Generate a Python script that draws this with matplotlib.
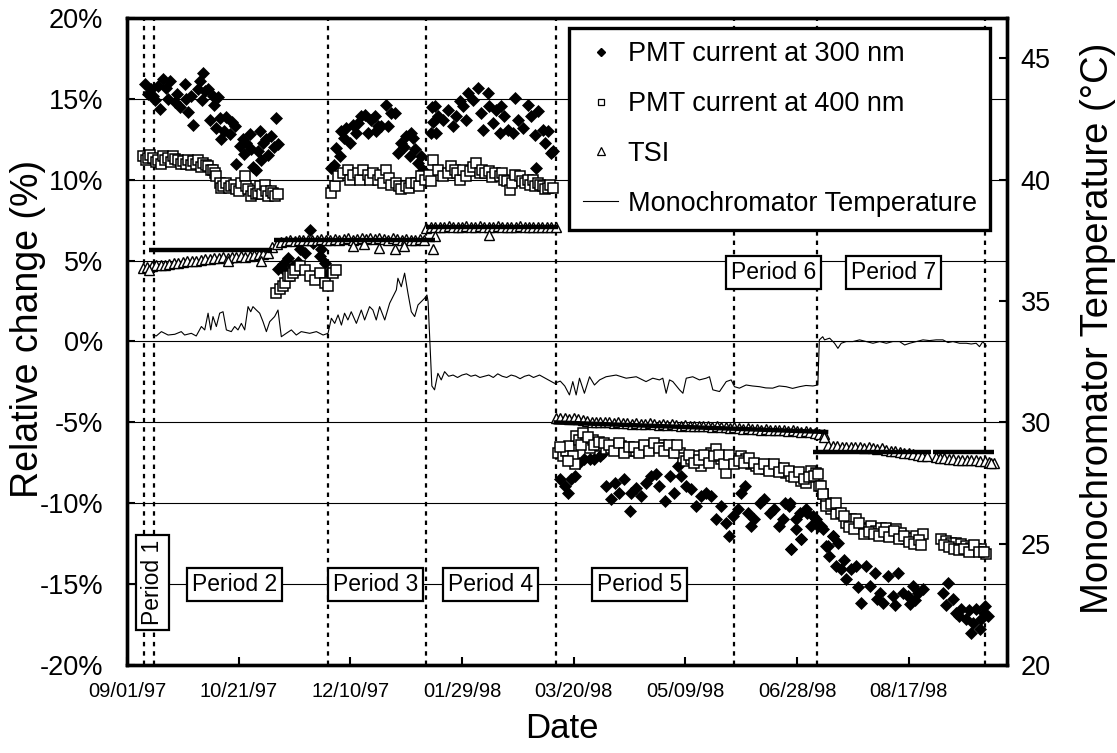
import datetime as dt
import numpy as np
import matplotlib
matplotlib.use("Agg")
import matplotlib.pyplot as plt
from matplotlib.lines import Line2D

plt.rcParams['font.family'] = ['Liberation Sans', 'DejaVu Sans']

# x values are days since 09/01/97
START = dt.date(1997, 9, 1)

# PMT current at 300 nm (% change)
pmt300_days = [
    # periods 1-2
    7.9, 9.5, 10.9, 11.7, 12.5, 13.9, 14.6, 16.1, 17.6, 18.5, 19.1, 21.3, 22.5, 23.6, 25.8,
    26.6, 27.5, 28.8, 29.6, 31.8, 32.5, 33.5, 34.0, 34.8, 36.3, 37.0, 38.5, 39.0, 40.0, 40.7,
    41.5, 42.2, 43.5, 44.5, 46.0, 47.0, 48.2, 49.0, 50.4, 51.9, 52.5, 53.4, 54.9, 55.5, 56.4,
    57.9, 58.5, 59.4, 60.2, 61.0, 62.4, 63.1, 64.6, 65.8, 66.9, 67.6,
    # low group
    67.5, 69.8, 71.0, 72.1, 74.3, 76.5, 77.3, 79.5, 81.8, 83.3, 86.3, 87.0, 88.5, 90.0,
    # period 3
    91.5, 92.5, 93.7, 95.2, 96.0, 97.0, 98.2, 99.7, 101.2, 102.5, 103.4, 104.9, 106.4, 107.9,
    109.4, 110.9, 111.5, 112.4, 113.9, 116.1, 116.8, 118.0, 119.8, 121.3, 122.8, 124.0, 125.1,
    126.5, 127.2, 128.0, 128.8, 130.3, 131.8, 132.5,
    # period 4
    136.0, 136.5, 137.0, 137.7, 138.5, 139.2, 141.4, 143.7, 145.9, 147.4, 148.9, 150.4, 151.9,
    152.6, 154.9, 157.1, 158.6, 159.3, 161.6, 162.3, 163.8, 165.3, 166.8, 167.6, 169.0, 170.5,
    172.8, 173.5, 175.0, 177.3, 179.5, 181.0, 182.5, 183.2, 184.0, 186.2, 187.0, 188.4, 189.9,
    190.7,
    # periods 5-6
    193.7, 195.9, 197.4, 198.9, 200.4, 202.6, 204.8, 207.1, 209.3, 211.6, 213.0, 214.5, 216.8,
    218.3, 220.5, 222.7, 225.0, 225.7, 228.0, 230.2, 232.4, 234.7, 236.9, 238.4, 240.7, 242.9,
    245.1, 246.6, 248.1, 250.4, 252.6, 254.8, 257.1, 259.3, 261.5, 263.8, 266.0, 268.3, 269.7,
    271.2, 273.5, 275.0, 276.5, 278.0, 279.4, 280.9, 283.2, 285.4, 287.7, 289.9, 292.1,
    # periods 6-7
    293.7, 294.4, 296.6, 296.7, 297.3, 297.4, 299.6, 299.7, 301.2, 301.8, 301.9, 304.1, 304.5,
    306.3, 307.1, 308.5, 309.4, 310.8, 311.6, 313.0, 313.8, 314.5, 316.0, 316.1, 317.5, 318.3,
    319.8, 321.0, 322.0, 324.3, 326.5, 327.5, 328.8, 331.0, 332.5, 334.7, 336.0, 337.0, 338.5,
    340.7, 342.9, 344.0, 345.2, 347.4, 349.6, 350.5, 351.9, 353.0, 354.1, 356.4, 365.3, 366.5,
    367.6, 369.8, 371.3, 372.5, 373.5, 375.8, 377.0, 378.0, 379.0, 380.2, 381.7, 382.5, 383.5,
    384.0, 385.5,
]
pmt300 = [
    15.9, 15.3, 15.6, 15.2, 14.9, 15.8, 14.4, 16.2, 15.7, 15.0, 16.1, 14.8, 15.3, 14.5, 15.9,
    15.0, 14.2, 15.2, 13.4, 15.6, 16.1, 14.9, 16.6, 15.5, 15.6, 13.7, 15.2, 14.6, 13.2, 15.1,
    13.8, 12.5, 13.0, 13.9, 12.8, 13.6, 13.3, 11.0, 12.1, 12.5, 11.6, 12.3, 12.8, 11.9, 10.8,
    10.6, 11.8, 13.0, 11.2, 12.3, 12.5, 11.5, 12.7, 12.0, 13.8, 12.2,
    4.5, 4.76, 4.3, 5.17, 4.66, 4.9, 5.69, 5.48, 6.92, 6.1, 5.28, 5.69, 4.86, 4.25,
    10.7, 10.9, 11.97, 11.45, 13.0, 12.6, 13.2, 12.28, 13.4, 12.9, 13.52, 13.93, 14.03, 12.9,
    13.72, 13.93, 13.0, 13.31, 13.31, 14.65, 13.31, 14.1, 14.13, 11.66, 12.28, 12.0, 12.69,
    11.45, 12.9, 12.59, 11.87, 11.04, 11.45, 10.63,
    12.9, 14.5, 13.6, 14.54, 12.9, 13.93, 13.72, 14.34, 13.31, 13.93, 14.85, 14.54, 13.72,
    15.37, 14.96, 15.68, 14.13, 13.1, 15.37, 14.54, 13.51, 14.34, 12.9, 14.54, 13.93, 13.1,
    12.9, 15.06, 13.72, 13.2, 14.65, 13.93, 12.79, 10.7, 14.23, 13.1, 12.28, 13.0, 11.66,
    11.76,
    -8.53, -8.94, -9.35, -8.53, -8.32, -7.50, -7.29, -7.29, -7.29, -7.09, -6.88, -8.94, -9.76,
    -8.73, -9.35, -8.53, -10.49, -9.35, -9.04, -9.56, -8.73, -8.32, -8.22, -8.94, -9.87, -8.32,
    -9.35, -7.70, -8.32, -8.94, -9.15, -10.18, -9.56, -9.35, -9.56, -11.0, -10.18, -11.2, -12.03,
    -10.8, -10.38, -9.35, -8.94, -10.59, -11.41, -11.0, -9.97, -9.76, -10.59, -10.38, -11.41,
    -11.0, -9.97, -10.18, -9.97, -12.85, -12.86, -11.0, -11.62, -10.59, -12.24, -12.24, -10.38,
    -10.59, -11.41, -10.79, -11.0, -11.41, -11.41, -11.62, -12.65, -12.65, -13.27, -12.03,
    -12.03, -13.88, -12.44, -14.09, -13.5, -14.71, -14.09, -13.88, -15.2, -16.15, -13.88,
    -15.12, -14.30, -15.9, -15.53, -16.15, -14.50, -15.74, -16.3, -14.30, -15.53, -15.74, -16.2,
    -15.12, -16.0, -15.53, -15.33, -15.53, -16.3, -14.91, -15.94, -16.77, -17.0, -16.56, -17.18,
    -16.6, -18.0, -17.4, -16.56, -17.8, -17.18, -16.8, -16.36, -16.98,
]

# PMT current at 400 nm (% change)
pmt400_days = [
    7.2, 8.3, 9.4, 10.5, 11.7, 12.8, 13.9, 15.0, 16.1, 17.2, 18.4, 19.5, 20.6, 21.7, 22.8,
    24.0, 25.1, 26.2, 27.3, 28.5, 29.6, 30.7, 31.8, 33.0, 34.0, 35.2, 36.3, 37.4, 38.5, 39.2,
    40.0, 41.5, 42.2, 43.0, 44.5, 45.6, 46.7, 47.8, 49.0, 50.1, 51.2, 52.7, 53.5, 54.2, 55.3,
    56.4, 57.9, 58.6, 59.4, 60.5, 61.6, 62.4, 63.1, 64.6, 65.3, 66.1, 67.6,
    66.9, 68.4, 69.8, 70.6, 72.1, 72.8, 74.3, 75.1, 77.3, 79.5, 81.8, 84.0, 86.3, 88.5, 90.0,
    92.2, 93.7,
    91.5, 93.0, 94.5, 96.7, 98.9, 100.0, 101.2, 103.4, 104.5, 105.6, 107.9, 109.0, 110.1,
    112.4, 113.5, 114.6, 116.1, 117.2, 118.3, 120.6, 121.7, 122.8, 125.1, 126.2, 127.3, 129.5,
    130.6, 131.8, 133.3,
    135.0, 136.0, 137.0, 139.2, 141.4, 143.7, 145.2, 146.7, 147.8, 148.9, 150.5, 151.9, 153.4,
    155.0, 156.4, 157.9, 159.0, 160.1, 162.3, 163.5, 164.6, 166.8, 167.9, 169.0, 170.2, 171.3,
    172.4, 173.5, 175.8, 176.9, 178.0, 179.5, 180.6, 181.7, 182.8, 184.0, 185.1, 186.2, 187.3,
    188.4, 189.5, 190.7,
    192.9, 195.1, 196.6, 198.1, 199.6, 200.4, 201.1, 202.6, 204.1, 205.6, 207.1, 208.6, 210.1,
    212.3, 214.5, 216.8, 219.0, 221.3, 223.5, 225.7, 228.0, 230.2, 232.4, 234.7, 236.9, 239.2,
    241.4, 243.6, 245.9, 247.4, 248.9, 250.4, 252.6, 254.8, 257.1, 259.3, 261.5, 263.8, 266.0,
    268.3, 270.5, 272.7, 275.0, 277.2, 279.4, 281.7, 283.9, 286.2, 288.4, 290.6, 292.9, 295.1,
    297.3, 299.6, 301.8, 304.1, 306.3, 308.5, 310.0, 311.5, 313.0, 315.3, 317.5,
    194.0, 197.4, 203.3, 206.3, 209.3, 211.4, 213.4, 215.6, 217.9, 220.1, 222.4, 224.6, 226.9,
    229.1, 231.3, 233.6, 235.8, 238.0, 240.3, 242.5, 244.7, 246.4, 251.5, 253.7, 256.0, 258.2,
    260.4, 262.7, 264.9, 267.2, 269.4, 271.6, 273.8, 276.1, 278.3, 280.6, 282.8, 285.0, 287.3,
    289.5, 291.8, 294.0, 296.2, 298.5, 300.7, 303.0, 305.2, 307.4,
    309.4, 310.9, 311.6, 313.1, 315.3, 317.6, 319.8, 322.0, 324.3, 326.5, 328.8, 331.0, 333.2,
    335.5, 337.7, 340.0, 342.2, 344.4, 346.7, 348.9, 351.1, 353.4, 356.4, 364.6, 366.8, 369.0,
    371.3, 373.5, 375.8, 378.0, 380.2, 382.5, 384.7,
    321.0, 323.2, 325.4, 327.7, 329.9, 332.1, 334.4, 336.6, 338.8, 341.1, 343.3, 345.5, 347.8,
    350.0, 352.2, 354.5, 355.5, 365.7, 367.9, 370.2, 372.4, 374.6, 376.9, 379.1, 381.4, 383.6,
]
pmt400 = [
    11.46, 11.2, 11.35, 11.5, 11.35, 11.1, 11.25, 11.0, 11.46, 11.2, 11.35, 11.1, 11.46, 11.3,
    11.25, 10.95, 11.15, 11.0, 11.25, 10.9, 11.15, 11.0, 11.25, 10.8, 11.04, 10.9, 10.84, 10.6,
    10.63, 10.4, 10.22, 9.81, 9.5, 9.6, 9.81, 9.5, 9.6, 9.7, 9.4, 9.3, 9.81, 10.22, 9.6, 9.4,
    9.0, 9.29, 9.09, 9.2, 9.6, 9.1, 9.7, 9.3, 8.98, 9.29, 9.2, 8.98, 9.09,
    3.0, 3.22, 3.42, 3.63, 4.04, 4.04, 4.25, 4.45, 4.66, 4.45, 4.04, 3.83, 4.25, 3.63, 3.42,
    4.25, 4.45,
    9.19, 9.6, 10.22, 10.43, 10.63, 10.0, 10.32, 10.43, 10.0, 10.63, 10.32, 10.0, 10.43, 10.01,
    10.3, 9.81, 10.63, 10.1, 9.7, 9.81, 9.6, 9.4, 9.6, 9.5, 9.81, 9.81, 9.6, 10.22, 10.01,
    10.3, 9.9, 11.25, 10.63, 10.22, 10.42, 10.84, 10.63, 10.4, 10.01, 10.6, 10.22, 10.53, 10.8,
    11.04, 10.42, 10.6, 10.42, 10.53, 10.2, 10.42, 10.22, 10.4, 10.01, 9.9, 9.39, 9.8, 10.32,
    10.22, 9.9, 9.81, 10.01, 9.7, 10.01, 9.6, 9.81, 9.7, 9.6, 9.4, 9.5, 9.7, 9.5,
    -6.88, -7.09, -6.78, -6.47, -7.09, -7.60, -5.85, -6.06, -5.64, -6.26, -6.57, -6.06, -6.26,
    -6.47, -6.67, -6.57, -6.67, -6.47, -6.67, -6.78, -6.78, -6.67, -6.57, -6.47, -6.47, -6.37,
    -6.57, -6.67, -6.57, -6.88, -7.19, -7.40, -7.29, -7.09, -7.70, -7.29, -6.88, -6.67, -7.29,
    -8.12, -7.29, -7.29, -7.09, -7.29, -7.60, -7.70, -7.70, -7.91, -7.81, -7.81, -7.91, -8.12,
    -8.32, -8.32, -8.63, -8.73, -8.01, -8.12, -8.94, -9.46, -9.97, -10.38, -10.69,
    -6.5, -7.4, -6.4, -5.9, -6.4, -6.2, -6.3, -6.4, -6.8, -6.3, -6.9, -6.5, -6.5, -6.9, -6.4,
    -6.8, -6.3, -6.6, -6.8, -6.4, -6.9, -6.4, -7.0, -7.5, -7.3, -7.0, -7.5, -7.1, -7.0, -7.6,
    -7.0, -7.6, -7.4, -7.5, -7.2, -7.5, -7.9, -7.6, -8.0, -7.6, -8.1, -7.8, -8.0, -8.4, -8.1,
    -8.5, -8.4, -8.3,
    -8.22, -8.94, -9.46, -10.18, -10.07, -9.97, -10.59, -11.21, -11.0, -11.0, -11.52, -11.62,
    -11.41, -11.72, -11.52, -11.52, -11.82, -11.62, -11.82, -12.24, -12.13, -12.03, -11.93,
    -12.24, -12.34, -12.44, -12.44, -12.55, -12.65, -12.75, -12.86, -12.86, -13.16,
    -10.8, -11.5, -11.6, -11.2, -11.9, -11.8, -11.9, -12.0, -11.8, -12.1, -11.7, -12.2, -12.0,
    -12.4, -12.5, -12.3, -12.6, -12.6, -12.7, -12.8, -12.9, -12.8, -13.0, -12.6, -13.0, -13.0,
]

# TSI (% change), one reading every second day
tsi_a = [4.55, 4.6, 4.65, 4.7, 4.7, 4.75, 4.8, 4.85, 4.85, 4.9, 4.95, 5.0, 4.95, 5.05, 5.1,
         5.1, 5.15, 5.15, 5.2, 5.15, 5.2, 5.25, 5.3, 5.25, 5.3, 5.35, 5.4, 5.4, 5.5, 5.85,
         6.05, 6.15, 6.2, 6.25, 6.2, 6.25, 6.3, 6.25, 6.3, 6.3, 6.35, 6.3, 6.3, 6.35, 6.3,
         6.35, 6.4, 6.3, 6.35, 6.4, 6.35, 6.4, 6.35, 6.4, 6.35, 6.3, 6.4, 6.35, 6.3, 6.35,
         6.3, 6.3, 6.35, 6.3]
tsi_a_days = np.arange(7, 134, 2)
tsi_b = [7.0, 7.05, 7.1, 7.05, 7.1, 7.15, 7.1, 7.05, 7.1, 7.15, 7.1, 7.1, 7.15, 7.1, 7.05,
         7.1, 7.15, 7.1, 7.1, 7.05, 7.1, 7.15, 7.1, 7.05, 7.1, 7.1, 7.05, 7.1, 7.05, 7.1]
tsi_b_days = np.arange(134, 193, 2)
tsi_c = [-4.7, -4.75, -4.7, -4.8, -4.75, -4.8, -4.85, -4.9,
         -4.95, -4.95, -5.0, -5.0, -5.0, -5.05, -5.0, -5.05, -5.05, -5.1, -5.05, -5.1, -5.1,
         -5.05, -5.1, -5.15, -5.1, -5.15, -5.1, -5.15, -5.2, -5.15,
         -5.2, -5.2, -5.25, -5.2, -5.25, -5.3, -5.25, -5.3, -5.3, -5.35, -5.3, -5.35, -5.4,
         -5.35, -5.4, -5.4, -5.45, -5.4, -5.45, -5.5, -5.45, -5.5, -5.55, -5.5, -5.55, -5.6,
         -5.55, -5.6, -5.65, -5.7, -5.75]
tsi_c_days = np.arange(192, 313, 2)
tsi_d = [-6.4, -6.45, -6.45, -6.5, -6.5, -6.55, -6.5, -6.55, -6.6, -6.55, -6.6, -6.65, -6.6,
         -6.7, -6.75, -6.8, -6.85, -6.9, -6.9, -6.95, -7.0, -7.05]
tsi_d_days = np.arange(314, 357, 2)
tsi_e = [-7.15, -7.2, -7.2, -7.25, -7.25, -7.3, -7.3, -7.3, -7.35, -7.35, -7.4, -7.4, -7.45,
         -7.5]
tsi_e_days = np.arange(362, 389, 2)
# scattered low TSI readings
tsi_low_days = [10, 45, 60, 101, 106, 113, 120, 124, 137, 138, 162, 312, 358, 387]
tsi_low = [4.4, 5.0, 5.0, 5.9, 6.0, 5.8, 5.7, 5.9, 5.7, 6.5, 6.6, -5.9, -7.05, -7.5]

# TSI trend bars per period: start day, end day, start level, end level
trend_start = [10, 66, 134, 191, 307, 361]
trend_end = [65, 138, 193, 314, 360, 388]
trend_lo = [5.65, 6.3, 7.1, -5.0, -6.85, -6.85]
trend_hi = [5.65, 6.3, 7.1, -5.6, -6.85, -6.85]

# monochromator temperature (deg C)
temp_days = [
    11.7, 13.1, 15.4, 18.4, 21.4, 24.3, 25.8, 28.8, 31.0, 33.3, 34.8, 36.3, 37.5, 38.5, 40.0,
    41.5, 43.0, 44.5, 46.7, 48.2, 49.7, 51.2, 52.7, 54.2, 55.4, 56.4, 57.9, 59.4, 60.9, 62.4,
    63.9, 66.1, 67.6, 69.1, 71.3, 73.6, 75.8, 78.0, 81.8, 84.8, 87.8, 90.0,
    91.5, 93.0, 94.5, 96.0, 97.4, 98.9, 100.4, 102.7, 104.9, 106.4, 108.6, 110.1, 111.6, 113.1,
    115.4, 117.6, 119.1, 120.6, 121.3, 122.8, 124.3, 125.8, 127.3, 128.8, 130.3, 131.8, 133.3,
    134.3, 134.8,
    136.5, 137.7, 139.2, 140.7, 142.2,
    144, 146, 148, 150, 152, 154, 156, 158, 160, 162, 164, 166, 168, 170, 172, 174, 176, 178,
    180, 182,
    184.7, 191.4, 194.0, 196.0, 198.1, 199.6, 201.1, 202.6, 204.8, 207.1, 209.3, 211.6, 214.5,
    219.0, 223.5, 228.0, 232.4, 235.4, 238.4, 239.9, 241.4, 242.9, 244.4, 247.4, 248.9, 250.4,
    253.3, 256.3, 259.3, 260.8, 262.3, 265.3, 268.3, 270.5, 272.0, 274.2, 277.2, 280.0, 283.2,
    286.0, 289.1, 292.0, 295.1, 298.0, 301.1, 304.0, 307.1, 309.3,
    310.0, 311.5, 312.3, 314.6, 316.8, 318.3, 319.8, 322.0, 325.0, 328.0, 331.0, 334.0, 337.0,
    340.0, 342.9, 345.9, 348.2, 350.4, 353.4, 356.4, 359.3, 362.3, 365.3, 367.6, 369.8, 372.8,
    375.8, 378.0, 380.2, 381.7, 383.2, 384.7,
]
temp = [
    33.6, 33.56, 33.74, 33.6, 33.63, 33.74, 33.6, 33.67, 33.56, 33.95, 33.81, 34.5, 33.81, 34.36,
    33.95, 34.5, 34.56, 33.81, 33.74, 33.95, 33.81, 34.08, 33.81, 34.77, 34.56, 34.77, 34.63,
    34.5, 34.15, 33.74, 34.15, 34.36, 34.63, 33.53, 33.67, 33.81, 33.6, 33.74, 33.67, 33.74,
    33.6, 33.67,
    34.29, 34.08, 34.43, 34.01, 34.5, 34.22, 34.56, 34.08, 34.63, 34.22, 34.77, 34.63, 34.22,
    34.77, 34.22, 34.91, 35.18, 35.46, 35.94, 35.59, 36.15, 35.32, 34.56, 34.36, 34.84, 34.98,
    35.12, 35.25, 34.98,
    31.5, 31.34, 32.02, 31.75, 32.09,
    31.9, 31.95, 31.85, 31.95, 32.0, 31.9, 31.95, 31.85, 31.9, 31.95, 31.85, 32.0, 31.9, 31.85,
    31.95, 31.9, 31.8, 31.9, 31.95, 31.85,
    31.95, 31.61, 31.7, 31.5, 31.13, 31.68, 31.13, 31.82, 31.2, 31.88, 31.54, 31.75, 31.88,
    31.95, 31.82, 31.88, 31.68, 31.82, 31.75, 31.82, 31.2, 31.75, 31.68, 31.34, 31.2, 31.82,
    31.88, 31.75, 31.82, 31.88, 31.34, 31.27, 31.68, 31.75, 31.47, 31.41, 31.54, 31.5, 31.47,
    31.42, 31.41, 31.5, 31.47, 31.4, 31.47, 31.52, 31.5, 31.54,
    33.4, 33.53, 33.4, 33.47, 33.26, 33.05, 33.26, 33.33, 33.33, 33.4, 33.33, 33.26, 33.33,
    33.26, 33.33, 33.33, 33.19, 33.26, 33.33, 33.4, 33.37, 33.4, 33.4, 33.29, 33.33, 33.26,
    33.26, 33.23, 33.26, 33.12, 33.33, 33.15,
]

# period boundaries and labels
period_edges = [7.5, 12, 90, 134, 192, 272, 309, 384]
period_names = ['Period 1', 'Period 2', 'Period 3', 'Period 4', 'Period 5', 'Period 6', 'Period 7']
period_label_days = [11.5, 48.2, 111.3, 162.8, 229.5, 289.5, 343.2]
period_label_levels = [-14.9, -15, -15, -15, -15, 4.25, 4.25]
period_label_rot = [90, 0, 0, 0, 0, 0, 0]

tick_days = list(range(0, 351, 50))
tick_labels = [(START + dt.timedelta(days=d)).strftime('%m/%d/%y') for d in tick_days]
pct_ticks = list(range(-20, 21, 5))
temp_ticks = list(range(20, 46, 5))

fig = plt.figure(figsize=(11.17, 7.53), dpi=100)
ax = fig.add_axes([0.1137, 0.1169, 0.7878, 0.8592])
ax2 = ax.twinx()

ax.set_axisbelow(True)
ax.yaxis.grid(True, color='black', lw=0.8)
for d in period_edges:
    ax.axvline(d, color='black', lw=1.6, ls=(0, (2, 2.2)), zorder=1)

ax.plot(pmt300_days, pmt300, ls='none', marker='D', ms=6.6, mfc='black', mec='black',
        mew=0.5, zorder=3)
ax.plot(pmt400_days, pmt400, ls='none', marker='s', ms=7.3, mfc='white', mec='black',
        mew=1.1, zorder=4)
for days, vals in [(tsi_a_days, tsi_a), (tsi_b_days, tsi_b), (tsi_c_days, tsi_c),
                   (tsi_d_days, tsi_d), (tsi_e_days, tsi_e), (tsi_low_days, tsi_low)]:
    ax.plot(days, vals, ls='none', marker='^', ms=7.5, mfc='white', mec='black',
            mew=1.0, zorder=5)
for s, e, lo, hi in zip(trend_start, trend_end, trend_lo, trend_hi):
    ax.plot([s, e], [lo, hi], color='black', lw=3.2, solid_capstyle='butt', zorder=6)

ax2.plot(temp_days, temp, color='black', lw=0.8)

ax.set_xlim(0, 394)
ax.set_ylim(-20, 20)
ax2.set_ylim(20, 20 + 40 * 2 / 3)

ax.set_xticks(tick_days)
ax.set_xticklabels(tick_labels)
ax.set_yticks(pct_ticks)
ax.set_yticklabels([f'{v}%' for v in pct_ticks])
ax2.set_yticks(temp_ticks)

ax.tick_params(axis='x', direction='in', length=6, width=1.5, labelsize=14.5, pad=12)
ax.tick_params(axis='y', direction='in', length=6, width=1.5, labelsize=19.5, pad=17)
ax2.tick_params(axis='y', direction='in', length=6, width=1.5, labelsize=19.5, pad=10)
for a in (ax, ax2):
    for sp in a.spines.values():
        sp.set_linewidth(2.4)

ax.set_ylabel('Relative change (%)', fontsize=27)
ax.yaxis.set_label_coords(-0.092, 0.52)
ax2.set_ylabel('Monochromator Temperature (°C)', fontsize=27.5)
ax2.yaxis.set_label_coords(1.083, 0.52)
ax.set_xlabel('Date', fontsize=25)
ax.xaxis.set_label_coords(0.494, -0.072)

for d, lev, name, rot in zip(period_label_days, period_label_levels, period_names,
                             period_label_rot):
    ax2.text(d, lev, name, transform=ax.transData, ha='center', va='center', rotation=rot,
             fontsize=16.5, zorder=10,
             bbox=dict(boxstyle='square,pad=0.22', fc='white', ec='black', lw=1.6))

handles = [
    Line2D([], [], ls='none', marker='D', ms=4.2, mfc='black', mec='black'),
    Line2D([], [], ls='none', marker='s', ms=5, mfc='white', mec='black', mew=0.9),
    Line2D([], [], ls='none', marker='^', ms=5.5, mfc='white', mec='black', mew=0.9),
    Line2D([], [], color='black', lw=0.8),
]
names = ['PMT current at 300 nm', 'PMT current at 400 nm', 'TSI', 'Monochromator Temperature']
leg = ax2.legend(handles, names, loc='upper right', bbox_to_anchor=(0.981, 0.985),
                 fontsize=19.5, frameon=True, fancybox=False, edgecolor='black', framealpha=1,
                 borderpad=0.5, labelspacing=0.88, handlelength=1.3, handletextpad=0.35,
                 borderaxespad=0)
leg.get_frame().set_linewidth(2.4)
leg.set_zorder(20)

fig.savefig('out.png', dpi=100)
